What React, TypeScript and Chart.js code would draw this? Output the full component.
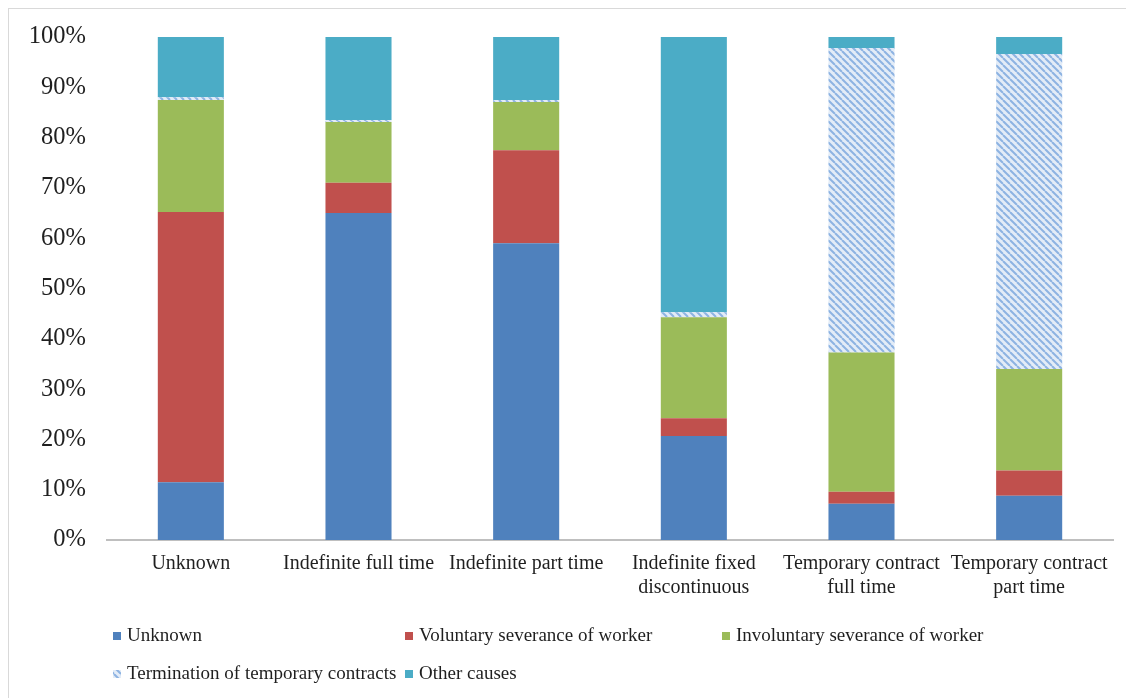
import React, { useEffect, useRef } from "react";
import { Chart, registerables } from "chart.js";

Chart.register(...registerables);

const categories: (string | string[])[] = [
  "Unknown",
  "Indefinite full time",
  "Indefinite part time",
  ["Indefinite fixed", "discontinuous"],
  ["Temporary contract", "full time"],
  ["Temporary contract", "part time"],
];

const unknownVals = [11.5, 65.0, 59.0, 20.7, 7.2, 8.8];
const voluntaryVals = [53.7, 6.0, 18.5, 3.5, 2.4, 5.0];
const involuntaryVals = [22.3, 12.1, 9.6, 20.1, 27.7, 20.2];
const terminationVals = [0.5, 0.4, 0.4, 1.0, 60.5, 62.6];
const otherVals = [12.0, 16.5, 12.5, 54.7, 2.2, 3.4];

const seriesNames = [
  "Unknown",
  "Voluntary severance of worker",
  "Involuntary severance of worker",
  "Termination of temporary contracts",
  "Other causes",
];

const yTicks = [0, 10, 20, 30, 40, 50, 60, 70, 80, 90, 100];

const FONT = "'Liberation Serif', 'Times New Roman', serif";
const TEXT = "#1f1f1f";

function makeHatch(): CanvasPattern | string {
  const s = 7;
  const c = document.createElement("canvas");
  c.width = s;
  c.height = s;
  const g = c.getContext("2d");
  if (!g) return "#c6d9f1";
  g.fillStyle = "#e3ecf7";
  g.fillRect(0, 0, s, s);
  g.strokeStyle = "#8db3e2";
  g.lineWidth = 2;
  for (const k of [-s, 0, s]) {
    g.beginPath();
    g.moveTo(k, 0);
    g.lineTo(k + s, s);
    g.stroke();
  }
  const p = g.createPattern(c, "repeat");
  return p || "#c6d9f1";
}

const legendPlugin = {
  id: "gridLegend",
  afterDraw(chart: any) {
    const ctx = chart.ctx as CanvasRenderingContext2D;
    const cols = [104, 396, 713];
    const rows = [627, 665];
    const slots = [
      [0, 0],
      [1, 0],
      [2, 0],
      [0, 1],
      [1, 1],
    ];
    ctx.save();
    ctx.font = `19px ${FONT}`;
    ctx.textBaseline = "middle";
    ctx.textAlign = "left";
    chart.data.datasets.forEach((ds: any, i: number) => {
      const [ci, ri] = slots[i];
      const x = cols[ci];
      const y = rows[ri];
      ctx.fillStyle = ds.backgroundColor;
      ctx.fillRect(x, y - 4, 8, 8);
      ctx.fillStyle = TEXT;
      ctx.fillText(ds.label, x + 14, y);
    });
    ctx.restore();
  },
};

export default function App() {
  const ref = useRef<HTMLCanvasElement | null>(null);

  useEffect(() => {
    if (!ref.current) return;
    const hatch = makeHatch();
    const colors = ["#4f81bd", "#c0504d", "#9bbb59", hatch, "#4bacc6"];
    const values = [unknownVals, voluntaryVals, involuntaryVals, terminationVals, otherVals];
    const chart = new Chart(ref.current, {
      type: "bar",
      data: {
        labels: categories,
        datasets: values.map((v, i) => ({
          label: seriesNames[i],
          data: v,
          backgroundColor: colors[i] as any,
          borderWidth: 0,
          barPercentage: 0.394,
          categoryPercentage: 1,
        })),
      },
      options: {
        responsive: false,
        animation: false,
        maintainAspectRatio: false,
        layout: { padding: { top: 28, right: 21, left: 0, bottom: 0 } },
        plugins: {
          legend: { display: false },
          tooltip: { enabled: false },
        },
        scales: {
          x: {
            stacked: true,
            grid: { display: false, drawTicks: false },
            border: { display: true, color: "#bfbfbf", width: 2 },
            ticks: {
              color: TEXT,
              font: { family: FONT, size: 20 },
              padding: 12,
              maxRotation: 0,
              autoSkip: false,
            },
            afterFit: (s: any) => {
              s.height = 158;
            },
          },
          y: {
            stacked: true,
            min: 0,
            max: 100,
            grid: { display: false, drawTicks: false },
            border: { display: false },
            afterBuildTicks: (s: any) => {
              s.ticks = yTicks.map((v) => ({ value: v }));
            },
            ticks: {
              color: TEXT,
              font: { family: FONT, size: 24.5 },
              padding: 21,
              callback: (v: any) => `${v}%`,
            },
            afterFit: (s: any) => {
              s.width = 98;
              s.paddingTop = 0;
              s.paddingBottom = 0;
            },
          },
        },
      },
      plugins: [legendPlugin],
    });
    return () => chart.destroy();
  }, []);

  return (
    <div
      style={{
        borderTop: "1px solid #d9d9d9",
        borderLeft: "1px solid #d9d9d9",
        width: 1125,
        height: 689,
        background: "#fff",
      }}
    >
      <canvas ref={ref} width={1125} height={689} style={{ display: "block" }} />
    </div>
  );
}
